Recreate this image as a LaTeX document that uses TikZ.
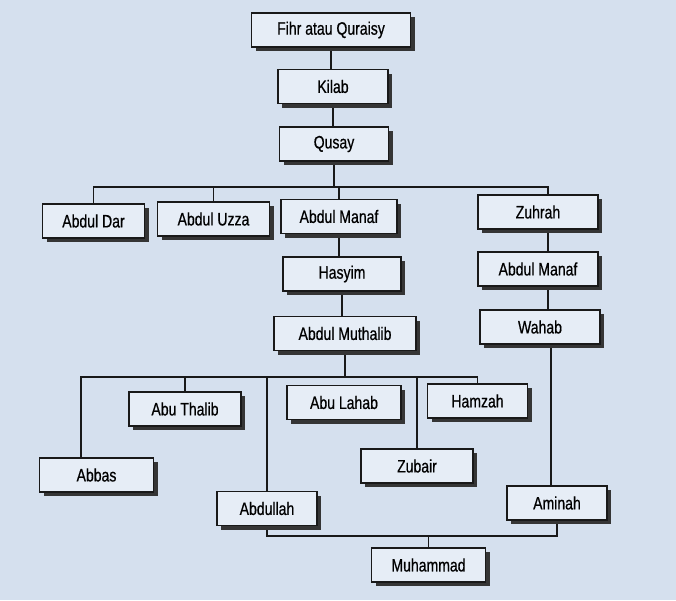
\documentclass[tikz,border=0pt]{standalone}
\usepackage{fontspec}
\setmainfont{Liberation Sans}[FakeStretch=0.78,FakeBold=0.6]
\usetikzlibrary{shadows}
\definecolor{bgcol}{HTML}{D5E0EE}
\definecolor{boxfill}{HTML}{E6EDF6}
\definecolor{shade}{HTML}{353535}
\pgfdeclarelayer{paper}
\pgfdeclarelayer{wires}
\pgfsetlayers{paper,wires,main}
\begin{document}
\begin{tikzpicture}[x=1pt,y=-1pt,
  person/.style={draw=black!90, line width=1.1pt, fill=boxfill, minimum height=34pt,
    inner sep=0pt, font=\fontsize{18}{21}\selectfont,
    drop shadow={shadow xshift=4pt, shadow yshift=-4pt, fill=shade, opacity=1}},
  link/.style={line width=1.1pt, draw=black!90, line join=miter}]
\begin{pgfonlayer}{paper}
\fill[bgcol] (0,0) rectangle (676,600);
\end{pgfonlayer}
\useasboundingbox (0,0) rectangle (676,600);

\node[person, minimum width=159pt] (fihr) at (331,30) {Fihr atau Quraisy};
\node[person, minimum width=110pt] (kilab) at (333,86.5) {Kilab};
\node[person, minimum width=109pt] (qusay) at (334,144) {Qusay};
\node[person, minimum width=102pt] (abduldar) at (93.5,221) {Abdul Dar};
\node[person, minimum width=112pt] (abduluzza) at (213.5,219) {Abdul Uzza};
\node[person, minimum width=116pt] (abdulmanaf) at (339,216.5) {Abdul Manaf};
\node[person, minimum width=120pt] (zuhrah) at (538,212) {Zuhrah};
\node[person, minimum width=118pt] (hasyim) at (342,274) {Hasyim};
\node[person, minimum width=120pt] (abdulmanafb) at (538,269) {Abdul Manaf};
\node[person, minimum width=142pt] (muthalib) at (345,333.5) {Abdul Muthalib};
\node[person, minimum width=120pt] (wahab) at (540,327) {Wahab};
\node[person, minimum width=112pt] (abuthalib) at (185,409) {Abu Thalib};
\node[person, minimum width=114pt] (abulahab) at (344,402.5) {Abu Lahab};
\node[person, minimum width=100pt] (hamzah) at (477.5,401) {Hamzah};
\node[person, minimum width=114pt] (abbas) at (96.5,475) {Abbas};
\node[person, minimum width=112pt] (zubair) at (417,466) {Zubair};
\node[person, minimum width=100pt] (abdullah) at (267,508.5) {Abdullah};
\node[person, minimum width=100pt] (aminah) at (557,503) {Aminah};
\node[person, minimum width=114pt] (muhammad) at (428.5,565) {Muhammad};

\coordinate (busA) at (0,187);
\coordinate (busB) at (0,377);
\coordinate (busC) at (0,536);
\coordinate (rx) at (548,0);
\coordinate (ry) at (551,0);
\coordinate (ax) at (81,0);

\begin{pgfonlayer}{wires}
\draw[link] (fihr.south) -- (fihr.south |- kilab.north);
\draw[link] (kilab.south) -- (kilab.south |- qusay.north);
\draw[link] (qusay.south) -- (qusay.south |- busA);
\draw[link] (abduldar.north) -- (abduldar.north |- busA) -- (busA -| rx) -- (zuhrah.north -| rx);
\draw[link] (abduluzza.north) -- (abduluzza.north |- busA);
\draw[link] (abdulmanaf.north) -- (abdulmanaf.north |- busA);
\draw[link] (abdulmanaf.south) -- (abdulmanaf.south |- hasyim.north);
\draw[link] (hasyim.south) -- (hasyim.south |- muthalib.north);
\draw[link] (zuhrah.south -| rx) -- (abdulmanafb.north -| rx);
\draw[link] (abdulmanafb.south -| rx) -- (wahab.north -| rx);
\draw[link] (wahab.south -| ry) -- (aminah.north -| ry);
\draw[link] (muthalib.south) -- (muthalib.south |- busB);
\draw[link] (abbas.north -| ax) -- (busB -| ax) -- (busB -| hamzah.north) -- (hamzah.north);
\draw[link] (abuthalib.north) -- (abuthalib.north |- busB);
\draw[link] (abdullah.north) -- (abdullah.north |- busB);
\draw[link] (zubair.north) -- (zubair.north |- busB);
\draw[link] (abdullah.south) -- (abdullah.south |- busC) -- (aminah.south |- busC) -- (aminah.south);
\draw[link] (muhammad.north) -- (muhammad.north |- busC);
\end{pgfonlayer}
\end{tikzpicture}
\end{document}
